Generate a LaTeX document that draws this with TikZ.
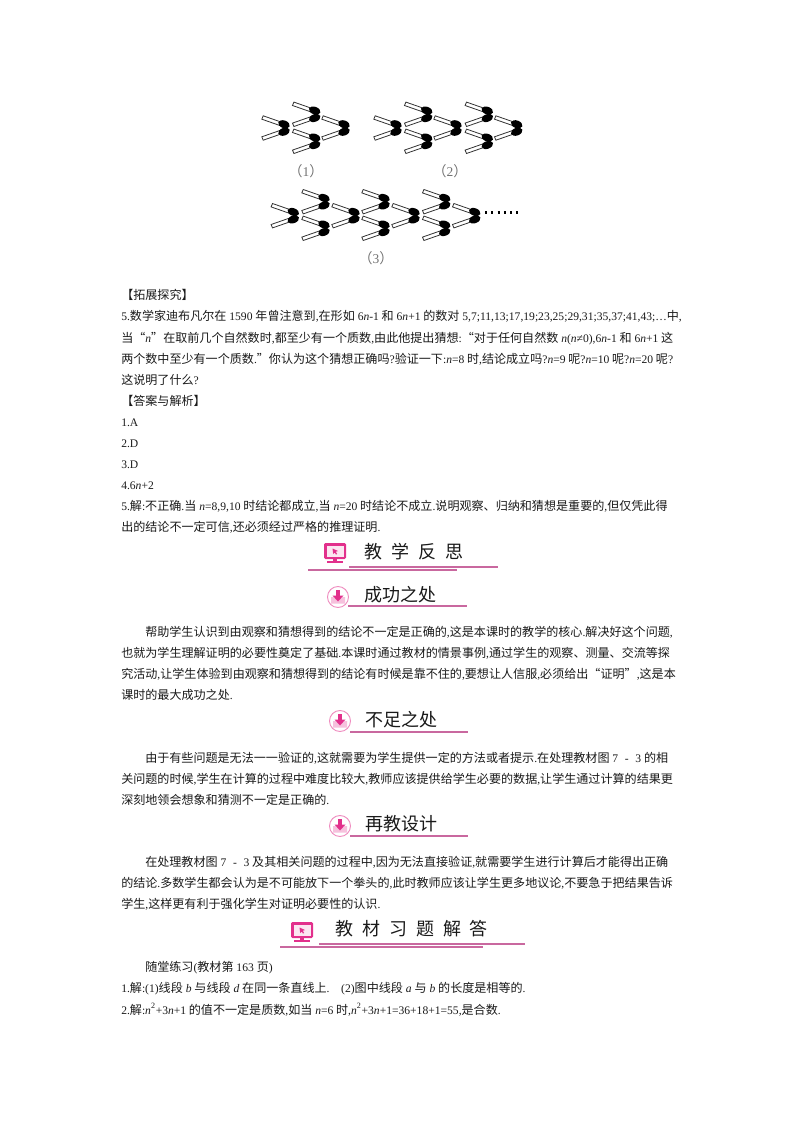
\documentclass[tikz,border=0pt]{standalone}
\usepackage{fontspec}
\setmainfont{Noto Sans CJK SC}
\newfontfamily\latin[Scale=0.96]{Liberation Serif}
\usetikzlibrary{calc}
\definecolor{rulepink}{HTML}{C9689F}
\definecolor{iconpink}{HTML}{E2308C}
\newcommand{\la}[1]{{\latin #1}}
\newcommand{\ita}[1]{{\latin\itshape #1}}
\newcommand{\gp}{\hspace{6.7pt}}
\newcommand{\figsev}{\la{ 7\hspace{5pt}-\hspace{5pt}3 }}
\tikzset{
	bodyline/.style={anchor=base west,inner sep=0pt,text=black!90,font=\fontsize{9.05}{12}\selectfont},
	figlabel/.style={inner sep=0pt,text=black!55,font=\fontsize{10.5}{12}\selectfont},
	bighead/.style={anchor=west,inner sep=0pt,text=black!90,font=\fontsize{13.5}{16}\selectfont},
	smallhead/.style={anchor=west,inner sep=0pt,text=black!90,font=\fontsize{13.5}{16}\selectfont},
	chevron/.pic={
		\draw[line width=0.6pt,black!80,fill=white] (-21.8,-12.2) -- (-2.3,-5.4) -- (-3.7,-2) -- (-23.2,-8.8) -- cycle;
		\draw[line width=0.6pt,black!80,fill=white] (-21.8,12.2) -- (-2.3,5.4) -- (-3.7,2) -- (-23.2,8.8) -- cycle;
		\fill[black,rotate around={-20:(-1,-3.7)}] (-1,-3.7) ellipse (6 and 3.8);
		\fill[black,rotate around={20:(-1,3.7)}] (-1,3.7) ellipse (6 and 3.8);
	},
	monitor/.pic={
		\fill[iconpink,rounded corners=1pt] (-11,-9) rectangle (11,7);
		\fill[iconpink!12] (-8.5,-6.5) rectangle (8.5,4.5);
		\fill[iconpink] (-2.5,-3.5) -- (3,-1) -- (0.8,-0.2) -- (2.2,2) -- (1,2.6) -- (-0.2,0.5) -- (-1.8,2) -- cycle;
		\fill[iconpink] (-2,7) rectangle (2,9);
		\fill[iconpink] (-8,9) rectangle (8,11);
	},
	downicon/.pic={
		\draw[line width=0.7pt,iconpink!55,fill=white] (0,0) circle (10.5);
		\fill[iconpink!30] (-7,0) -- (-4,0) -- (0,4) -- (4,0) -- (7,0) -- (7,6.5) -- (-7,6.5) -- cycle;
		\fill[iconpink] (-2,-7.5) rectangle (2,-1.5);
		\fill[iconpink] (-5.5,-1.5) -- (5.5,-1.5) -- (0,4.5) -- cycle;
	}
}

\begin{document}
\begin{tikzpicture}[x=0.75pt,y=-0.75pt]
	%%%%% START %%%%%
	
	\useasboundingbox (0,0) rectangle (800,1132);
	
	% figure 1
	\pic at (285,128) {chevron};
	\pic at (315.7,114.3) {chevron};
	\pic at (315.7,141.3) {chevron};
	\pic at (345,128) {chevron};
	\node[figlabel] (labelone) at (306,171) {（\la{1}）};
	
	% figure 2
	\pic at (397,128) {chevron};
	\pic at (427.7,114.3) {chevron};
	\pic at (427.7,141.3) {chevron};
	\pic at (457,128) {chevron};
	\pic at (488.3,114.3) {chevron};
	\pic at (488.3,141.3) {chevron};
	\pic at (517.7,128) {chevron};
	\node[figlabel] (labeltwo) at (450,171) {（\la{2}）};
	
	% figure 3
	\pic at (294.3,215.7) {chevron};
	\pic at (325,201.7) {chevron};
	\pic at (325,228.3) {chevron};
	\pic at (355,215.7) {chevron};
	\pic at (385,201.7) {chevron};
	\pic at (385,228.3) {chevron};
	\pic at (415,215.7) {chevron};
	\pic at (445.7,201.7) {chevron};
	\pic at (445.7,228.3) {chevron};
	\pic at (475.7,215.7) {chevron};
	\draw[line width=2pt,black,dash pattern=on 1.6pt off 3.1pt] (485,212.7) -- (518,212.7);
	\node[figlabel] (labelthree) at (376,258) {（\la{3}）};
	
	% exercise
	\node[bodyline] (ex1) at (121,299.5) {【拓展探究】};
	\node[bodyline] (ex2) at (121,320.5) {\la{5.}数学家迪布凡尔在\la{ 1590 }年曾注意到\la{,}在形如\la{ 6}\ita{n}\la{-1} 和\la{ 6}\ita{n}\la{+1} 的数对\la{ 5,7;11,13;17,19;23,25;29,31;35,37;41,43;…}中\la{,}};
	\node[bodyline] (ex3) at (121,342) {当“\ita{n}”在取前几个自然数时\la{,}都至少有一个质数\la{,}由此他提出猜想\la{:}“对于任何自然数\la{ }\ita{n}\la{(}\ita{n}\la{≠0),6}\ita{n}\la{-1} 和\la{ 6}\ita{n}\la{+1} 这};
	\node[bodyline] (ex4) at (121,363.5) {两个数中至少有一个质数\la{.}”你认为这个猜想正确吗\la{?}验证一下\la{:}\ita{n}\la{=8} 时\la{,}结论成立吗\la{?}\ita{n}\la{=9} 呢\la{?}\ita{n}\la{=10} 呢\la{?}\ita{n}\la{=20} 呢\la{?}};
	\node[bodyline] (ex5) at (121,384.5) {这说明了什么\la{?}};
	
	% answers
	\node[bodyline] (an1) at (121,405.5) {【答案与解析】};
	\node[bodyline] (an2) at (121,426.5) {\la{1.A}};
	\node[bodyline] (an3) at (121,447.5) {\la{2.D}};
	\node[bodyline] (an4) at (121,468.5) {\la{3.D}};
	\node[bodyline] (an5) at (121,489.5) {\la{4.6}\ita{n}\la{+2}};
	\node[bodyline] (an6) at (121,510.5) {\la{5.}解\la{:}不正确\la{.}当\la{ }\ita{n}\la{=8,9,10} 时结论都成立\la{,}当\la{ }\ita{n}\la{=20} 时结论不成立\la{.}说明观察、归纳和猜想是重要的\la{,}但仅凭此得};
	\node[bodyline] (an7) at (121,531.5) {出的结论不一定可信\la{,}还必须经过严格的推理证明\la{.}};
	
	% heading reflection
	\pic at (335,552) {monitor};
	\node[bighead] (headrefl) at (364,552) {教\gp 学\gp 反\gp 思};
	\draw[rulepink,line width=0.9pt] (349,567) -- (498,567);
	\draw[rulepink,line width=0.9pt] (308,570) -- (457,570);
	
	% heading success
	\pic at (338,597) {downicon};
	\node[smallhead] (headgood) at (364,595) {成功之处};
	\draw[rulepink,line width=1.1pt] (348,606) -- (467,606);
	\node[bodyline] (go1) at (145,636.5) {帮助学生认识到由观察和猜想得到的结论不一定是正确的\la{,}这是本课时的教学的核心\la{.}解决好这个问题\la{,}};
	\node[bodyline] (go2) at (121,657.5) {也就为学生理解证明的必要性奠定了基础\la{.}本课时通过教材的情景事例\la{,}通过学生的观察、测量、交流等探};
	\node[bodyline] (go3) at (121,678.5) {究活动\la{,}让学生体验到由观察和猜想得到的结论有时候是靠不住的\la{,}要想让人信服\la{,}必须给出“证明”\la{,}这是本};
	\node[bodyline] (go4) at (121,699.5) {课时的最大成功之处\la{.}};
	
	% heading shortfall
	\pic at (340,721) {downicon};
	\node[smallhead] (headbad) at (365,720) {不足之处};
	\draw[rulepink,line width=1.1pt] (350,732) -- (468,732);
	\node[bodyline] (ba1) at (145,762.5) {由于有些问题是无法一一验证的\la{,}这就需要为学生提供一定的方法或者提示\la{.}在处理教材图\figsev 的相};
	\node[bodyline] (ba2) at (121,783.5) {关问题的时候\la{,}学生在计算的过程中难度比较大\la{,}教师应该提供给学生必要的数据\la{,}让学生通过计算的结果更};
	\node[bodyline] (ba3) at (121,804.5) {深刻地领会想象和猜测不一定是正确的\la{.}};
	
	% heading redesign
	\pic at (340,826) {downicon};
	\node[smallhead] (headnew) at (365,824) {再教设计};
	\draw[rulepink,line width=1.1pt] (350,836) -- (468,836);
	\node[bodyline] (ne1) at (145,866.5) {在处理教材图\figsev 及其相关问题的过程中\la{,}因为无法直接验证\la{,}就需要学生进行计算后才能得出正确};
	\node[bodyline] (ne2) at (121,887.5) {的结论\la{.}多数学生都会认为是不可能放下一个拳头的\la{,}此时教师应该让学生更多地议论\la{,}不要急于把结果告诉};
	\node[bodyline] (ne3) at (121,908.5) {学生\la{,}这样更有利于强化学生对证明必要性的认识\la{.}};
	
	% heading textbook
	\pic at (302,931) {monitor};
	\node[bighead] (headbook) at (335,929) {教\gp 材\gp 习\gp 题\gp 解\gp 答};
	\draw[rulepink,line width=0.9pt] (319,944) -- (525,944);
	\draw[rulepink,line width=0.9pt] (280,947) -- (483,947);
	\node[bodyline] (bo1) at (145,971.5) {随堂练习\la{(}教材第\la{ 163 }页\la{)}};
	\node[bodyline] (bo2) at (121,992.5) {\la{1.}解\la{:(1)}线段\la{ }\ita{b}\la{ }与线段\la{ }\ita{d}\la{ }在同一条直线上\la{.\quad (2)}图中线段\la{ }\ita{a}\la{ }与\la{ }\ita{b}\la{ }的长度是相等的\la{.}};
	\node[bodyline] (bo3) at (121,1014) {\la{2.}解\la{:}\ita{n}\la{\textsuperscript{2}+3}\ita{n}\la{+1} 的值不一定是质数\la{,}如当\la{ }\ita{n}\la{=6} 时\la{,}\ita{n}\la{\textsuperscript{2}+3}\ita{n}\la{+1=36+18+1=55,}是合数\la{.}};
	
	%%%%% END %%%%%
\end{tikzpicture}
\end{document}
